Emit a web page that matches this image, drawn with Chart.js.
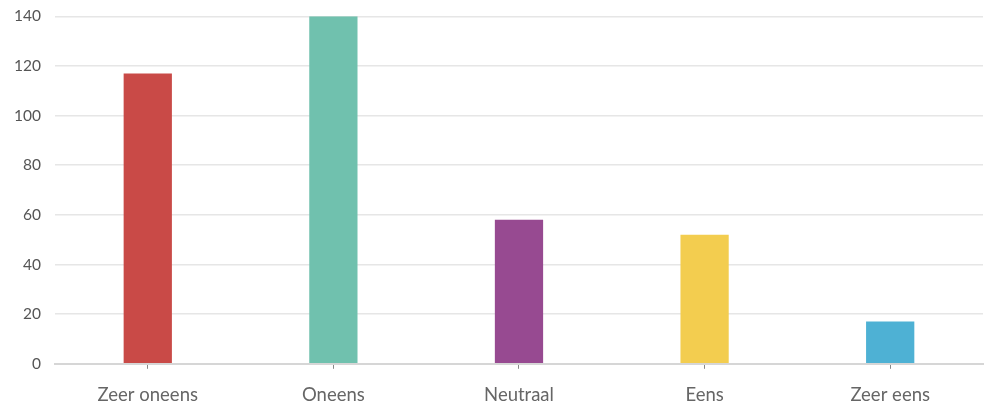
<!DOCTYPE html>
<html>
<head>
<meta charset="utf-8">
<script src="https://cdn.jsdelivr.net/npm/chart.js@4/dist/chart.umd.min.js"></script>
<style>
html,body{margin:0;padding:0;background:#fff;}
#wrap{width:995px;height:407px;position:relative;}
</style>
</head>
<body>
<div id="wrap"><canvas id="c" width="995" height="407"></canvas></div>
<script>
const categories = ["Zeer oneens", "Oneens", "Neutraal", "Eens", "Zeer eens"];
const values = [117, 140, 58, 52, 17];
const barColors = ["#c94a47", "#70c1ae", "#974a91", "#f3cd4f", "#4eb1d4"];
const yTicks = [0, 20, 40, 60, 80, 100, 120, 140];

new Chart(document.getElementById('c'), {
  type: 'bar',
  data: {
    labels: categories,
    datasets: [{
      data: values,
      backgroundColor: barColors,
      borderWidth: 0,
      categoryPercentage: 1,
      barPercentage: 0.26
    }]
  },
  options: {
    responsive: false,
    animation: false,
    layout: { padding: { top: 0, right: 12, left: 7, bottom: -14 } },
    plugins: { legend: { display: false }, tooltip: { enabled: false } },
    scales: {
      x: {
        grid: { drawOnChartArea: false, drawTicks: true, tickLength: 5, color: '#888', offset: false },
        border: { display: true, color: '#d6d6d6', width: 2 },
        ticks: { color: '#666', font: { family: 'Lato', size: 18.5 }, padding: 15 }
      },
      y: {
        min: 0, max: 140,
        afterBuildTicks: (axis) => { axis.ticks = yTicks.map(v => ({ value: v })); },
        grid: { color: '#e6e6e6', drawTicks: true, tickLength: 7, tickColor: 'rgba(0,0,0,0)', lineWidth: 1.5 },
        border: { display: false },
        ticks: { color: '#555', font: { family: 'Lato', size: 15.5 }, padding: 7 }
      }
    }
  }
});
</script>
</body>
</html>
